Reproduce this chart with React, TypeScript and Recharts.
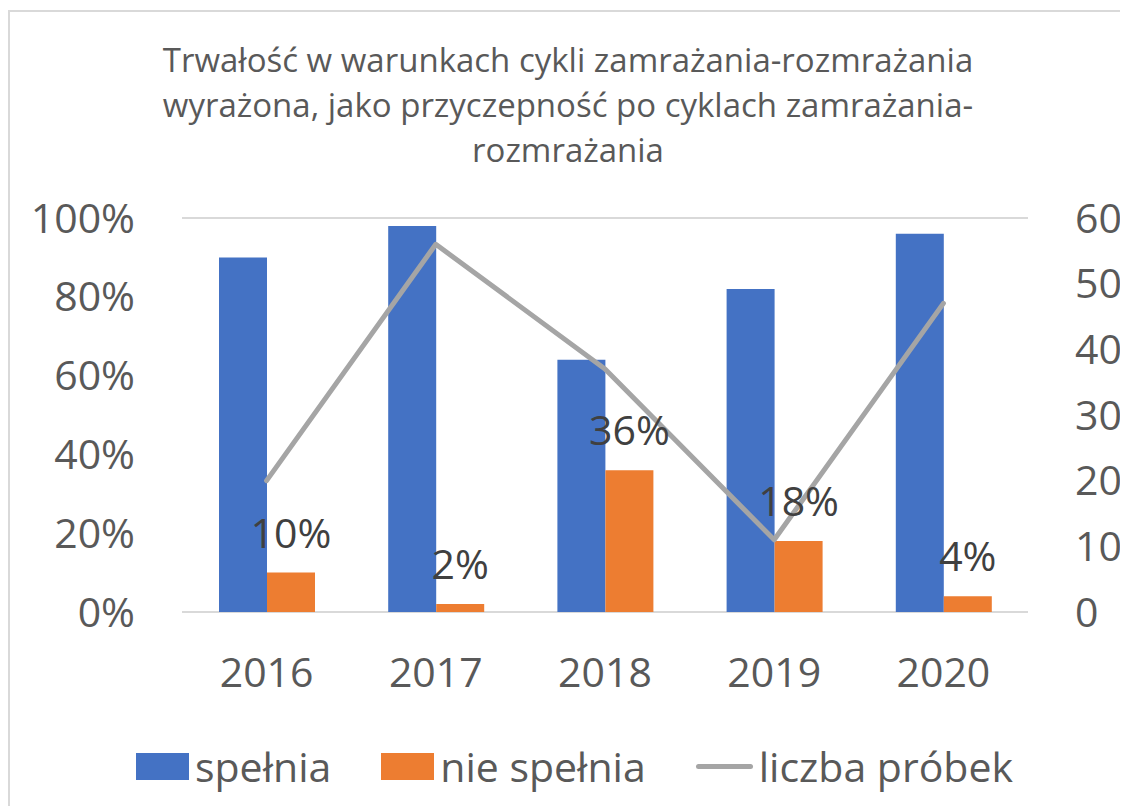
import {
  Bar,
  CartesianGrid,
  ComposedChart,
  LabelList,
  Line,
  XAxis,
  YAxis,
} from "recharts";

const YEARS = ["2016", "2017", "2018", "2019", "2020"];
const SPELNIA = [0.9, 0.98, 0.64, 0.82, 0.96];
const NIE_SPELNIA = [0.1, 0.02, 0.36, 0.18, 0.04];
const LICZBA_PROBEK = [20, 56, 37, 11, 47];

const PCT_TICKS = [0, 0.2, 0.4, 0.6, 0.8, 1];
const COUNT_TICKS = [0, 10, 20, 30, 40, 50, 60];

const TITLE_LINES = [
  "Trwałość w warunkach cykli zamrażania-rozmrażania",
  "wyrażona, jako przyczepność po cyklach zamrażania-",
  "rozmrażania",
];

const BLUE = "#4472C4";
const ORANGE = "#ED7D31";
const GREY = "#A5A5A5";
const FONT = "'Open Sans', sans-serif";

const data = YEARS.map((year, i) => ({
  year,
  spelnia: SPELNIA[i],
  nie: NIE_SPELNIA[i],
  liczba: LICZBA_PROBEK[i],
}));

const pct = (v: number) => `${Math.round(v * 100)}%`;

const tickStyle = { fill: "#595959", fontSize: 41, fontFamily: FONT };

function LegendItem({ kind, color, label }: { kind: "box" | "line"; color: string; label: string }) {
  return (
    <div style={{ display: "flex", alignItems: "center" }}>
      {kind === "box" ? (
        <div style={{ width: 53, height: 27, background: color, marginRight: 6 }} />
      ) : (
        <div style={{ width: 57, height: 5, borderRadius: 3, background: color, marginRight: 6 }} />
      )}
      <span>{label}</span>
    </div>
  );
}

export default function App() {
  return (
    <div style={{ position: "relative", width: 1120, height: 798, fontFamily: FONT, overflow: "hidden" }}>
      <div
        style={{
          position: "absolute",
          left: 0,
          top: 2,
          width: 1130,
          height: 800,
          borderTop: "2px solid #D9D9D9",
          borderLeft: "2px solid #D9D9D9",
        }}
      />
      <div
        style={{
          position: "absolute",
          left: 0,
          top: 29,
          width: 1120,
          textAlign: "center",
          color: "#595959",
          fontSize: 33,
          lineHeight: "45px",
        }}
      >
        {TITLE_LINES.map((t) => (
          <div key={t}>{t}</div>
        ))}
      </div>
      <div style={{ position: "absolute", left: 0, top: 0 }}>
        <ComposedChart
          width={1120}
          height={798}
          data={data}
          margin={{ top: 210, right: 20, left: 14, bottom: 114 }}
          barGap={0}
        >
          <CartesianGrid vertical={false} stroke="#D9D9D9" strokeWidth={2} />
          <XAxis
            dataKey="year"
            axisLine={false}
            tickLine={false}
            tickSize={0}
            tickMargin={46}
            tick={tickStyle}
            height={80}
          />
          <YAxis
            yAxisId="left"
            domain={[0, 1]}
            ticks={PCT_TICKS}
            interval={0}
            tickFormatter={pct}
            axisLine={false}
            tickLine={false}
            tickSize={0}
            tickMargin={47}
            tick={tickStyle}
            width={160}
          />
          <YAxis
            yAxisId="right"
            orientation="right"
            domain={[0, 60]}
            ticks={COUNT_TICKS}
            interval={0}
            axisLine={false}
            tickLine={false}
            tickSize={0}
            tickMargin={47}
            tick={{ ...tickStyle, textAnchor: "start" }}
            width={80}
          />
          <Bar yAxisId="left" dataKey="spelnia" fill={BLUE} barSize={48} isAnimationActive={false} />
          <Bar yAxisId="left" dataKey="nie" fill={ORANGE} barSize={48} isAnimationActive={false}>
            <LabelList
              dataKey="nie"
              position="top"
              offset={25}
              formatter={(v: number) => pct(v)}
              style={{ fill: "#404040", fontSize: 41, fontFamily: FONT }}
            />
          </Bar>
          <Line
            yAxisId="right"
            dataKey="liczba"
            stroke={GREY}
            strokeWidth={5}
            strokeLinecap="round"
            strokeLinejoin="round"
            dot={false}
            isAnimationActive={false}
          />
        </ComposedChart>
      </div>
      <div
        style={{
          position: "absolute",
          left: 128,
          top: 741,
          height: 34,
          display: "flex",
          alignItems: "center",
          gap: 50,
          color: "#595959",
          fontSize: 41,
        }}
      >
        <LegendItem kind="box" color={BLUE} label="spełnia" />
        <LegendItem kind="box" color={ORANGE} label="nie spełnia" />
        <LegendItem kind="line" color={GREY} label="liczba próbek" />
      </div>
    </div>
  );
}
